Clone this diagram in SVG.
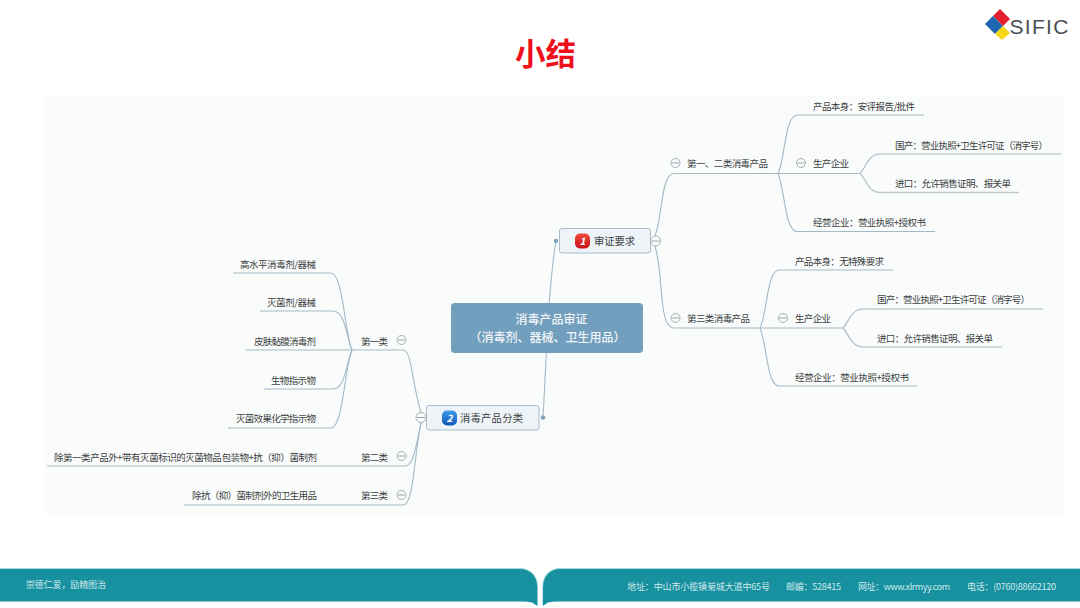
<svg xmlns="http://www.w3.org/2000/svg" width="1080" height="608" viewBox="0 0 1080 608">
<style>
text{font-family:"Noto Sans CJK SC","Noto Sans",sans-serif}
.t{font-size:9.5px;fill:#3a3f42;dominant-baseline:central}
.k{font-size:10.300px}
.c{fill:none;stroke:#a3bac6;stroke-width:1.1}
.u{fill:none;stroke:#bcc6cf;stroke-width:1.4}
.m{fill:#fbfcfc;stroke:#9aa5aa;stroke-width:.9}
.o{fill:none;stroke:#9aa5aa;stroke-width:.9}
.d{stroke:#8f9a9f;stroke-width:.9}
.b{fill:#eef3f7;stroke:#a9bccb;stroke-width:1}
.f{font-size:9px;fill:#cfeaed;dominant-baseline:central}
.w{font-size:12px;fill:#f2f6f9;text-anchor:middle;font-weight:500}
.dot{fill:#7fa3bd}
</style>
<defs>
<linearGradient id="red" x1="0" y1="0" x2="0" y2="1"><stop offset="0" stop-color="#f04a3e"/><stop offset="1" stop-color="#c9101a"/></linearGradient>
<linearGradient id="blue" x1="0" y1="0" x2="0" y2="1"><stop offset="0" stop-color="#3f9ae8"/><stop offset="1" stop-color="#0f58b8"/></linearGradient>
</defs>
<rect width="1080" height="608" fill="#fff"/>
<rect x="45" y="95" width="1020" height="421" fill="#fafbfb"/>
<text id="title" x="545.500" y="64.500" font-size="30.500" font-weight="700" fill="#f0101c" text-anchor="middle">小结</text>
<g id="logo">
<polygon points="1000,9 1010,19 1003,26 993,16" fill="#e5202e"/>
<polygon points="985,24 993,16 1003,26 995,34" fill="#1f66b0"/>
<polygon points="995,34 1003,26 1010,33 1002,40" fill="#f6d816"/>
<text x="1009.500" y="33.500" font-size="21" letter-spacing="1.300" fill="#4b4f55" style="font-family:'Liberation Sans',sans-serif">SIFIC</text>
</g>
<g id="connectors">
<path class="c" d="M556 241C548 290 547 350 543 417"/>
<path class="c" d="M655 236C663 214 661 173.500 674 173.500H778"/>
<path class="c" d="M655 246C664 275 658 328 674 328H760"/>
<path class="c" d="M778 173.500C785 160 785 115 797 115H924"/>
<path class="c" d="M778 173.500H860"/>
<path class="c" d="M860 173.500C866 168 868 154 880 154H1061"/>
<path class="u" d="M860 173.500C866 179 868 192.500 880 192.500H1019"/>
<path class="c" d="M778 173.500C785 190 785 231.500 797 231.500H935"/>
<path class="c" d="M760 328C767 315 767 270 779 270H893"/>
<path class="c" d="M760 328H843"/>
<path class="c" d="M843 328C849 322 851 309 863 309H1043"/>
<path class="c" d="M843 328C849 334 851 347 863 347H1002"/>
<path class="c" d="M760 328C767 345 767 386 779 386H917"/>
<path class="c" d="M421 412C412 385 412 350 403 350H352"/>
<path class="c" d="M352 350C345 335 343 273 331 273H233"/>
<path class="c" d="M352 350C346 335 345 311 333 311H260"/>
<path class="c" d="M352 350H246"/>
<path class="c" d="M352 350C346 365 345 389 333 389H264"/>
<path class="c" d="M352 350C345 365 343 428 331 428H228"/>
<path class="c" d="M421 423C416 445 414 466 405 466H47"/>
<path class="c" d="M421 423C414 455 414 505 403 505H184"/>
</g>
<g id="root">
<rect x="451" y="303" width="192" height="50" rx="4" fill="#739fbe"/>
<text class="w" x="551.500" y="324">消毒产品审证</text>
<text class="w" x="547.500" y="342">（消毒剂、器械、卫生用品）</text>
</g>
<g id="n1">
<rect class="b" x="559.500" y="228.500" width="91" height="24.500" rx="2.500"/>
<rect x="575" y="233.500" width="15" height="15" rx="5" fill="url(#red)"/>
<text x="582.500" y="245" font-size="10" font-style="italic" font-weight="700" fill="#fff" text-anchor="middle">1</text>
<text class="t k" x="594" y="240.500" textLength="41">审证要求</text>
<circle class="dot" cx="556" cy="241" r="2.200"/>
<circle class="m" cx="655.500" cy="241" r="5"/><path class="d" d="M651.500 241H659.500"/>
</g>
<g id="n2">
<rect class="b" x="426.500" y="405.500" width="112.500" height="24.500" rx="2.500"/>
<rect x="442" y="410.500" width="15" height="15" rx="5" fill="url(#blue)"/>
<text x="449.500" y="422" font-size="10" font-style="italic" font-weight="700" fill="#fff" text-anchor="middle">2</text>
<text class="t k" x="460" y="417.500" textLength="63">消毒产品分类</text>
<circle class="dot" cx="543" cy="417.500" r="2.200"/>
<circle class="m" cx="421" cy="417.500" r="5"/><path class="d" d="M417 417.500H425"/>
</g>
<g id="a1">
<circle class="o" cx="675.500" cy="163" r="4.500"/><path class="d" d="M672 163H679"/>
<text class="t" x="687" y="163" textLength="81">第一、二类消毒产品</text>
</g>
<g id="a11"><text class="t" x="813" y="105.500" textLength="102">产品本身：安评报告/批件</text></g>
<g id="a12">
<circle class="o" cx="801" cy="163" r="4.500"/><path class="d" d="M797.500 163H804.500"/>
<text class="t" x="813" y="163" textLength="36">生产企业</text>
</g>
<g id="a121"><text class="t" x="895" y="144.500" textLength="153">国产：营业执照+卫生许可证（消字号）</text></g>
<g id="a122"><text class="t" x="895" y="183" textLength="116">进口：允许销售证明、报关单</text></g>
<g id="a13"><text class="t" x="813" y="221.500" textLength="113">经营企业：营业执照+授权书</text></g>
<g id="a2">
<circle class="o" cx="675.500" cy="318" r="4.500"/><path class="d" d="M672 318H679"/>
<text class="t" x="687" y="318" textLength="63">第三类消毒产品</text>
</g>
<g id="a21"><text class="t" x="795" y="260.500" textLength="89">产品本身：无特殊要求</text></g>
<g id="a22">
<circle class="o" cx="783" cy="318" r="4.500"/><path class="d" d="M779.500 318H786.500"/>
<text class="t" x="795" y="318" textLength="36">生产企业</text>
</g>
<g id="a221"><text class="t" x="877" y="298.500" textLength="153">国产：营业执照+卫生许可证（消字号）</text></g>
<g id="a222"><text class="t" x="877" y="337.500" textLength="116">进口：允许销售证明、报关单</text></g>
<g id="a23"><text class="t" x="795" y="376.500" textLength="114">经营企业：营业执照+授权书</text></g>
<g id="b1">
<circle class="o" cx="401.500" cy="340" r="4.500"/><path class="d" d="M398 340H405"/>
<text class="t" x="361" y="340.500" textLength="27">第一类</text>
</g>
<g id="b11"><text class="t" x="240" y="263.500" textLength="76">高水平消毒剂/器械</text></g>
<g id="b12"><text class="t" x="267" y="301.500" textLength="49">灭菌剂/器械</text></g>
<g id="b13"><text class="t" x="254" y="340.500" textLength="62">皮肤黏膜消毒剂</text></g>
<g id="b14"><text class="t" x="271" y="379.500" textLength="45">生物指示物</text></g>
<g id="b15"><text class="t" x="236" y="418" textLength="80">灭菌效果化学指示物</text></g>
<g id="b2">
<circle class="o" cx="401.500" cy="456" r="4.500"/><path class="d" d="M398 456H405"/>
<text class="t" x="361" y="456.500" textLength="27">第二类</text>
</g>
<g id="b21"><text class="t" x="54" y="456.500" textLength="263">除第一类产品外+带有灭菌标识的灭菌物品包装物+抗（抑）菌制剂</text></g>
<g id="b3">
<circle class="o" cx="401.500" cy="495" r="4.500"/><path class="d" d="M398 495H405"/>
<text class="t" x="361" y="495" textLength="27">第三类</text>
</g>
<g id="b31"><text class="t" x="192" y="495" textLength="125">除抗（抑）菌制剂外的卫生用品</text></g>
<g id="footer">
<path d="M0 568.500H520C530 568.500 537.500 576 537.500 586V606L532 602.500Q528 601.500 522 601.500H0Z" fill="#17909f"/>
<path d="M0 568.500H520C530 568.500 537.500 576 537.500 586" fill="none" stroke="#a5dade" stroke-width="1"/>
<path d="M1080 568.500H560C550 568.500 542.800 576 542.800 586V606L548 602.500Q552 601.500 558 601.500H1080Z" fill="#17909f"/>
<path d="M1080 568.500H560C550 568.500 542.800 576 542.800 586" fill="none" stroke="#a5dade" stroke-width="1"/>
<text class="f" x="26" y="584.500" textLength="80">崇德仁爱，励精图治</text>
<text class="f" x="627" y="586.500" textLength="143">地址：中山市小榄镇菊城大道中65号</text>
<text class="f" x="786" y="586.500" textLength="55">邮编：528415</text>
<text class="f" x="858" y="586.500" textLength="92">网址：www.xlrmyy.com</text>
<text class="f" x="967" y="586.500" textLength="89">电话：(0760)88662120</text>
</g>
</svg>
